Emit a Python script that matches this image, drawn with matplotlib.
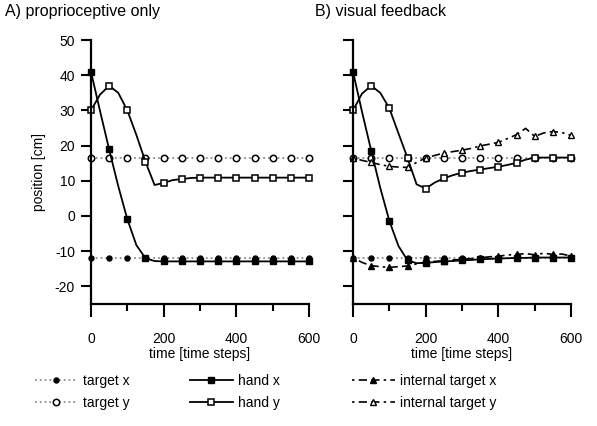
import matplotlib.pyplot as plt
import numpy as np
from matplotlib.lines import Line2D

plt.rcParams['font.family'] = ['Liberation Sans', 'DejaVu Sans']
plt.rcParams['font.size'] = 10
plt.rcParams['axes.unicode_minus'] = False

# time grid for the lines (every 25 steps), markers every 50 steps
t = np.arange(0, 625, 25)

# A) proprioceptive only
target_x_a = [-11.8] * 25
target_y_a = [16.5] * 25
hand_x_a = [41.0, 29.8, 18.9, 8.5, -0.9, -8.3, -12.0, -12.8, -12.9, -12.9, -12.9, -12.9, -12.9,
            -12.9, -12.9, -12.9, -12.9, -12.9, -12.9, -12.9, -12.9, -12.9, -12.9, -12.9, -12.9]
hand_y_a = [30.0, 34.5, 37.0, 35.0, 30.0, 23.0, 15.4, 8.8, 9.4, 10.2, 10.5, 10.8, 10.9,
            10.9, 10.9, 10.9, 10.9, 10.9, 10.9, 10.9, 10.9, 10.9, 10.9, 10.9, 10.9]

# B) visual feedback
target_x_b = [-11.8] * 25
target_y_b = [16.5] * 25
hand_x_b = [41.0, 29.5, 18.6, 8.0, -1.4, -8.5, -12.6, -13.4, -13.3, -13.1, -12.9, -12.8, -12.6,
            -12.5, -12.3, -12.2, -12.1, -12.0, -11.9, -11.9, -11.8, -11.8, -11.8, -11.8, -11.8]
hand_y_b = [30.0, 34.8, 37.0, 35.0, 30.6, 23.5, 16.5, 9.0, 7.8, 9.5, 10.7, 11.6, 12.3,
            12.8, 13.2, 13.6, 14.0, 14.5, 15.1, 16.0, 16.6, 16.6, 16.6, 16.6, 16.6]
int_x_b = [-11.8, -13.2, -14.1, -14.4, -14.6, -14.4, -14.2, -13.6, -13.1, -12.9, -12.7, -12.5, -12.3,
           -12.1, -11.9, -11.6, -11.4, -11.1, -10.9, -10.7, -11.0, -10.6, -10.9, -10.8, -11.4]
int_y_b = [16.5, 15.8, 15.2, 14.6, 14.1, 13.9, 13.8, 15.2, 16.5, 17.2, 17.9, 18.3, 18.7,
           19.2, 19.9, 20.4, 20.9, 22.0, 23.1, 24.9, 22.6, 23.6, 24.0, 23.7, 22.9]

gray = '#8c8c8c'
dash_style = (0, (1.5, 2.5, 5, 2.5, 5, 2.5))

style_target_x = dict(color=gray, ls=':', lw=1.3, marker='o', ms=3.6, mfc='k', mec='k')
style_target_y = dict(color=gray, ls=':', lw=1.3, marker='o', ms=4.6, mfc='white', mec='k', mew=1.1)
style_hand_x = dict(color='k', ls='-', lw=1.3, marker='s', ms=4.4, mfc='k', mec='k')
style_hand_y = dict(color='k', ls='-', lw=1.3, marker='s', ms=4.6, mfc='white', mec='k', mew=1.1)
style_int_x = dict(color='k', ls=dash_style, lw=1.2, marker='^', ms=4.2, mfc='k', mec='k')
style_int_y = dict(color='k', ls=dash_style, lw=1.2, marker='^', ms=4.6, mfc='white', mec='k', mew=1.0)

fig = plt.figure(figsize=(5.97, 4.26), dpi=100)
ax_a = fig.add_axes([0.1524, 0.2864, 0.3652, 0.6197])
ax_b = fig.add_axes([0.5913, 0.2864, 0.3652, 0.6197])


def draw(ax, series):
    for y, st in series:
        ax.plot(t, y, markevery=2, clip_on=False, **st)


draw(ax_a, [(target_x_a, style_target_x), (target_y_a, style_target_y),
            (hand_x_a, style_hand_x), (hand_y_a, style_hand_y)])
draw(ax_b, [(target_x_b, style_target_x), (target_y_b, style_target_y),
            (int_x_b, style_int_x), (int_y_b, style_int_y),
            (hand_x_b, style_hand_x), (hand_y_b, style_hand_y)])

for ax in (ax_a, ax_b):
    ax.set_xlim(0, 600)
    ax.set_ylim(-25, 50)
    ax.spines['top'].set_visible(False)
    ax.spines['right'].set_visible(False)
    for s in ('left', 'bottom'):
        ax.spines[s].set_linewidth(1.6)
    ax.set_xticks([0, 200, 400, 600])
    ax.set_xticks([100, 300, 500], minor=True)
    ax.set_yticks(np.arange(-20, 51, 10))
    ax.tick_params(axis='x', which='major', length=9, width=1.5, pad=11, labelsize=10)
    ax.tick_params(axis='x', which='minor', length=5, width=1.5)
    ax.tick_params(axis='y', which='major', length=7.5, width=1.5, pad=4, labelsize=10)
    ax.set_xlabel('time [time steps]', fontsize=10, labelpad=1)
    ax.patch.set_visible(False)

ax_b.set_yticklabels([])
ax_a.set_ylabel('position [cm]', fontsize=10, labelpad=6)

fig.text(0.008, 0.972, 'A) proprioceptive only', fontsize=11.5, va='center', ha='left')
fig.text(0.527, 0.972, 'B) visual feedback', fontsize=11.5, va='center', ha='left')


def handle(st):
    return Line2D([], [], **st)


legend_cols = [
    (0.058, ['target x', 'target y'], [style_target_x, style_target_y]),
    (0.318, ['hand x', 'hand y'], [style_hand_x, style_hand_y]),
    (0.589, ['internal target x', 'internal target y'], [style_int_x, style_int_y]),
]
for x0, labels, styles in legend_cols:
    fig.legend([handle(s) for s in styles], labels, loc='upper left',
               bbox_to_anchor=(x0, 0.122), frameon=False, fontsize=10,
               handlelength=3.1, handletextpad=0.4, labelspacing=0.55,
               borderpad=0, borderaxespad=0)

fig.savefig('out.png', dpi=100)
